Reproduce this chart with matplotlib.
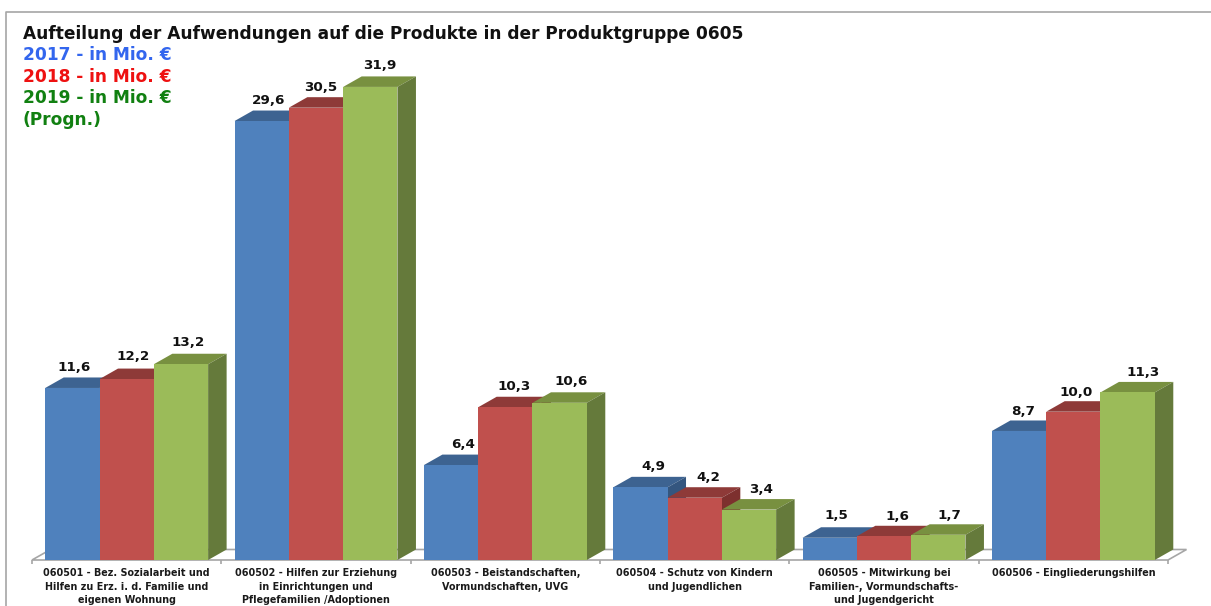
import matplotlib
matplotlib.use('Agg')
import matplotlib.pyplot as plt
from matplotlib.patches import Polygon

categories = [
    '060501 - Bez. Sozialarbeit und\nHilfen zu Erz. i. d. Familie und\neigenen Wohnung',
    '060502 - Hilfen zur Erziehung\nin Einrichtungen und\nPflegefamilien /Adoptionen',
    '060503 - Beistandschaften,\nVormundschaften, UVG',
    '060504 - Schutz von Kindern\nund Jugendlichen',
    '060505 - Mitwirkung bei\nFamilien-, Vormundschafts-\nund Jugendgericht',
    '060506 - Eingliederungshilfen',
]
values_2017 = [11.6, 29.6, 6.4, 4.9, 1.5, 8.7]
values_2018 = [12.2, 30.5, 10.3, 4.2, 1.6, 10.0]
values_2019 = [13.2, 31.9, 10.6, 3.4, 1.7, 11.3]
labels_2017 = ['11,6', '29,6', '6,4', '4,9', '1,5', '8,7']
labels_2018 = ['12,2', '30,5', '10,3', '4,2', '1,6', '10,0']
labels_2019 = ['13,2', '31,9', '10,6', '3,4', '1,7', '11,3']

# hand placed labels, nudge from bar centre in pixels
nudge_2017 = [(2, 0), (7, 0), (12, 0), (13, 1), (7, 2), (4, -1)]
nudge_2018 = [(6, 2), (5, 0), (9, 0), (14, 0), (13, 0), (3, -1)]
nudge_2019 = [(7, 1), (10, 1), (11, 1), (12, 0), (11, -1), (15, 0)]

W, H = 1211, 606
fig = plt.figure(figsize=(W / 100, H / 100), dpi=100)
plt.rcParams['font.family'] = ['DejaVu Sans']

# axes placed in pixels: 6 categories over 1136 px, one unit = 14.83 px
ax = fig.add_axes([32 / W, (H - 560) / H, 1136 / W, 520 / H])
ax.set_xlim(0, 6)
ax.set_ylim(0, 520 / 14.83)
ax.patch.set_alpha(0)
for s in ax.spines.values():
    s.set_visible(False)

px_x = 6 / 1136
px_y = 1 / 14.83
dx = 18.5 * px_x  # depth of the 3d effect
dy = 10.5 * px_y
bar_w = 54.3 * px_x

series = [
    (values_2017, labels_2017, nudge_2017, -1, '#4F81BD', '#3D6391', '#34567F'),
    (values_2018, labels_2018, nudge_2018, 0, '#C0504D', '#8E3A38', '#7D302E'),
    (values_2019, labels_2019, nudge_2019, 1, '#9BBB59', '#789040', '#657A3B'),
]

# floor
ax.add_patch(Polygon([(0, 0), (6, 0), (6 + dx, dy), (dx, dy)], closed=True, fc='white',
                     ec='#A6A6A6', lw=1.2, clip_on=False, zorder=1))

z = 2
for i in range(6):
    for vals, labs, nudge, off, front, top, side in series:
        x0 = i + 0.5 + off * bar_w - bar_w / 2
        x1 = x0 + bar_w
        v = vals[i]
        ax.add_patch(Polygon([(x0, v), (x1, v), (x1 + dx, v + dy), (x0 + dx, v + dy)],
                             closed=True, fc=top, ec='none', zorder=z, clip_on=False))
        ax.add_patch(Polygon([(x1, 0), (x1 + dx, dy), (x1 + dx, v + dy), (x1, v)],
                             closed=True, fc=side, ec='none', zorder=z, clip_on=False))
        ax.bar(x0 + bar_w / 2, v, width=bar_w, color=front, zorder=z + 0.5)
        ax.text(x0 + bar_w / 2 + nudge[i][0] * px_x, v + dy + 0.22 + nudge[i][1] * px_y, labs[i],
                ha='center', va='bottom', fontsize=9.7, fontweight='bold', color='#111111', zorder=50)
        z += 1

ax.set_xticks(range(7))
ax.set_xticklabels([])
ax.set_xticks([i + 0.5 for i in range(6)], minor=True)
ax.set_xticklabels(categories, minor=True, fontsize=6.9, fontweight='bold',
                   color='#1a1a1a', linespacing=1.42)
ax.tick_params(axis='x', which='major', length=3, color='#A6A6A6', width=1.2)
ax.tick_params(axis='x', which='minor', length=0, pad=6)
ax.set_yticks([])

# outer frame
fig.add_artist(plt.Line2D([6 / W, 6 / W, 1], [0, 1 - 12 / H, 1 - 12 / H],
                          color='#A6A6A6', lw=1.2))

fig.text(23 / W, 1 - 34 / H, 'Aufteilung der Aufwendungen auf die Produkte in der Produktgruppe 0605',
         fontsize=12.25, fontweight='bold', color='#111111', va='center', ha='left')
legend_lines = ['2017 - in Mio. €', '2018 - in Mio. €', '2019 - in Mio. €', '(Progn.)']
legend_colors = ['#3366EE', '#EE1111', '#118011', '#118011']
legend_y = [55, 77, 98, 120]
for t, c, y in zip(legend_lines, legend_colors, legend_y):
    fig.text(23 / W, 1 - y / H, t, fontsize=12.25, fontweight='bold', color=c, va='center', ha='left')

fig.savefig('out.png', dpi=100)
